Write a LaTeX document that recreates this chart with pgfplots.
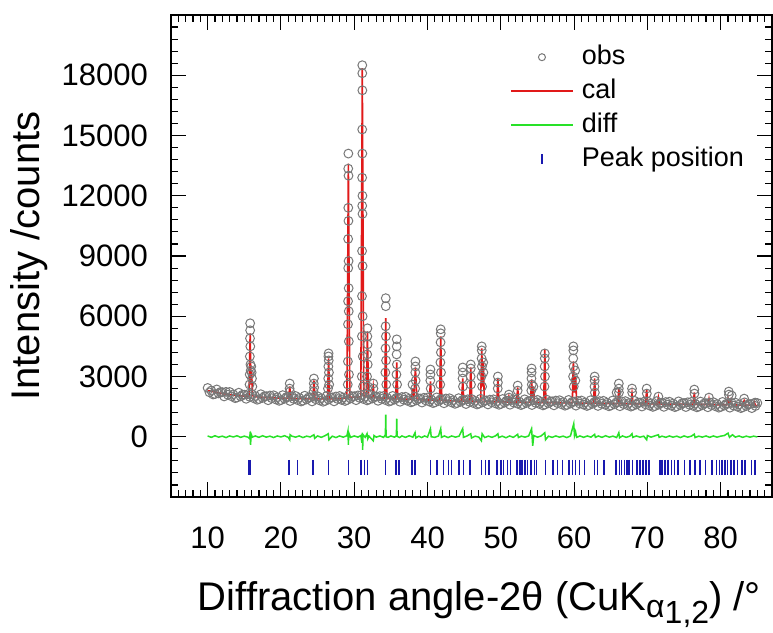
\documentclass[border=0pt]{standalone}
\usepackage{pgfplots}
\pgfplotsset{compat=1.18}
\usepackage{fontspec}
\setmainfont{Liberation Sans}
\definecolor{obsgray}{RGB}{120,120,120}
\definecolor{calred}{RGB}{225,25,25}
\definecolor{diffgreen}{RGB}{40,225,40}
\definecolor{pkblue}{RGB}{25,25,175}
\pgfplotsset{
  obsleg/.style={legend image code/.code={\draw[only marks, mark repeat=2, mark phase=2, mark size=3.5pt, ##1] plot coordinates {(0pt,0pt)(31pt,0pt)(62pt,0pt)};}},
  lineleg/.style={legend image code/.code={\draw[##1] (0pt,0pt) -- (62pt,0pt);}},
  pkleg/.style={legend image code/.code={\draw[pkblue, line width=1.2pt] (31pt,-5pt) -- (31pt,5pt);}},
}
\begin{document}
\begin{tikzpicture}
\begin{axis}[
  at={(0pt,0pt)}, anchor=south west,
  scale only axis, width=601pt, height=482pt,
  xmin=5, xmax=87, ymin=-3000, ymax=21000,
  scaled x ticks=false, scaled y ticks=false,
  xtick={0,10,20,30,40,50,60,70,80,90},
  xticklabels={,10,20,30,40,50,60,70,80,},
  minor x tick num=9,
  ytick={-3000,0,3000,6000,9000,12000,15000,18000,21000},
  yticklabels={,0,3000,6000,9000,12000,15000,18000,},
  minor y tick num=4,
  tick align=inside,
  major tick length=15pt, minor tick length=7pt,
  every tick/.style={black, line width=1.1pt},
  axis line style={line width=1.3pt},
  /pgf/number format/assume math mode=true,
  tick label style={font=\fontsize{31}{36}\selectfont},
  xticklabel style={anchor=base, inner sep=0pt, yshift=-51pt},
  yticklabel style={anchor=east, inner sep=0pt, xshift=-23pt},
  xlabel={Diffraction angle-2θ (CuK\raisebox{-7pt}{\fontsize{32}{32}\selectfont α\raisebox{-6pt}{1,2}}) /°},
  xlabel style={font=\fontsize{40}{44}\selectfont, at={(axis description cs:0.513,0)}, anchor=base, yshift=-113pt, inner sep=0pt},
  ylabel={Intensity /counts},
  ylabel style={font=\fontsize{40}{44}\selectfont, at={(axis description cs:-0.236,0.5)}, anchor=center, inner sep=0pt},
  legend cell align=left,
  legend style={at={(axis description cs:0.564,0.944)}, anchor=north west, draw=none, fill=none, inner sep=0pt,
    font=\fontsize{27}{30}\selectfont, row sep=4pt, column sep=6pt,
    nodes={inner sep=2pt, text height=20pt, text depth=6pt}},
]
% observed (background band)
\addplot[only marks, mark=o, mark size=4.4pt, mark options={draw=obsgray, line width=1pt, fill=none}, obsleg]
table {
x y
10.00 2430
10.25 2211
10.50 2302
10.75 2104
11.00 2125
11.25 2356
11.50 2157
11.75 2229
12.00 2220
12.25 2007
12.50 2235
12.75 2092
13.00 2230
13.25 2017
13.50 2115
13.75 1922
14.00 1950
14.25 2194
14.50 2007
14.75 2091
15.00 2095
15.25 1889
15.50 2122
15.75 1986
16.00 2130
16.25 1924
16.50 2027
16.75 1841
17.00 1875
17.25 2119
17.50 1932
17.75 2016
18.00 2020
18.25 1817
18.50 2054
18.75 1921
19.00 2067
19.25 1864
19.50 1971
19.75 1788
20.00 1825
20.25 2072
20.50 1889
20.75 1976
21.00 1982
21.25 1779
21.50 2016
21.75 1883
22.00 2030
22.25 1829
22.50 1937
22.75 1756
23.00 1795
23.25 2044
23.50 1862
23.75 1951
24.00 1960
24.25 1759
24.50 1997
24.75 1866
25.00 2015
25.25 1814
25.50 1922
25.75 1741
26.00 1780
26.25 2032
26.50 1855
26.75 1947
27.00 1960
27.25 1762
27.50 2005
27.75 1877
28.00 2030
28.25 1836
28.50 1952
28.75 1779
29.00 1825
29.25 2081
29.50 1907
29.75 2004
30.00 2020
30.25 1820
30.50 2060
30.75 1930
31.00 2080
31.25 1880
31.50 1990
31.75 1810
32.00 1850
32.25 2094
32.50 1907
32.75 1991
33.00 1995
33.25 1789
33.50 2022
33.75 1886
34.00 2030
34.25 1827
34.50 1934
34.75 1751
35.00 1787
35.25 2034
35.50 1851
35.75 1938
36.00 1945
36.25 1742
36.50 1979
36.75 1846
37.00 1992
37.25 1789
37.50 1896
37.75 1713
38.00 1750
38.25 1997
38.50 1814
38.75 1901
39.00 1907
39.25 1704
39.50 1941
39.75 1808
40.00 1955
40.25 1752
40.50 1859
40.75 1676
41.00 1712
41.25 1959
41.50 1776
41.75 1863
42.00 1870
42.25 1667
42.50 1904
42.75 1771
43.00 1917
43.25 1714
43.50 1821
43.75 1638
44.00 1675
44.25 1922
44.50 1739
44.75 1826
45.00 1832
45.25 1629
45.50 1866
45.75 1733
46.00 1880
46.25 1679
46.50 1787
46.75 1606
47.00 1645
47.25 1894
47.50 1712
47.75 1801
48.00 1810
48.25 1609
48.50 1847
48.75 1716
49.00 1865
49.25 1664
49.50 1772
49.75 1591
50.00 1630
50.25 1879
50.50 1697
50.75 1786
51.00 1795
51.25 1594
51.50 1832
51.75 1701
52.00 1850
52.25 1649
52.50 1757
52.75 1576
53.00 1615
53.25 1864
53.50 1682
53.75 1771
54.00 1780
54.25 1579
54.50 1817
54.75 1686
55.00 1835
55.25 1634
55.50 1742
55.75 1561
56.00 1600
56.25 1849
56.50 1667
56.75 1756
57.00 1765
57.25 1564
57.50 1802
57.75 1671
58.00 1820
58.25 1619
58.50 1727
58.75 1546
59.00 1585
59.25 1834
59.50 1652
59.75 1741
60.00 1750
60.25 1549
60.50 1787
60.75 1656
61.00 1805
61.25 1604
61.50 1712
61.75 1531
62.00 1570
62.25 1819
62.50 1637
62.75 1726
63.00 1735
63.25 1534
63.50 1772
63.75 1641
64.00 1790
64.25 1589
64.50 1697
64.75 1516
65.00 1555
65.25 1804
65.50 1622
65.75 1711
66.00 1720
66.25 1519
66.50 1757
66.75 1626
67.00 1775
67.25 1574
67.50 1682
67.75 1501
68.00 1540
68.25 1789
68.50 1607
68.75 1696
69.00 1705
69.25 1504
69.50 1742
69.75 1611
70.00 1760
70.25 1559
70.50 1667
70.75 1486
71.00 1525
71.25 1774
71.50 1592
71.75 1681
72.00 1690
72.25 1489
72.50 1728
72.75 1598
73.00 1747
73.25 1546
73.50 1655
73.75 1474
74.00 1513
74.25 1762
74.50 1581
74.75 1671
75.00 1680
75.25 1479
75.50 1718
75.75 1588
76.00 1737
76.25 1536
76.50 1645
76.75 1464
77.00 1503
77.25 1752
77.50 1571
77.75 1661
78.00 1670
78.25 1468
78.50 1706
78.75 1575
79.00 1723
79.25 1521
79.50 1629
79.75 1448
80.00 1486
80.25 1734
80.50 1552
80.75 1641
81.00 1649
81.25 1447
81.50 1685
81.75 1553
82.00 1701
82.25 1499
82.50 1607
82.75 1426
83.00 1464
83.25 1712
83.50 1530
83.75 1619
84.00 1627
84.25 1425
84.50 1663
84.75 1531
85.00 1680
};
\addlegendentry{obs}
% observed (peak points)
\addplot[forget plot, only marks, mark=o, mark size=4.4pt, mark options={draw=obsgray, line width=1pt, fill=none}]
table {
x y
15.80 5650
15.80 5300
15.78 4900
15.82 4500
15.76 4000
15.84 3600
15.74 3100
15.88 3300
15.95 3500
16.00 3200
16.05 2900
15.72 2600
16.10 2500
21.20 2650
21.18 2400
21.24 2250
24.50 2900
24.48 2650
24.53 2450
24.45 2250
26.50 4150
26.48 4000
26.52 3800
26.47 3500
26.55 3200
26.45 2900
26.58 2600
26.42 2400
29.20 14100
29.18 13350
29.22 13000
29.19 11400
29.21 10750
29.17 9850
29.23 8750
29.18 8400
29.24 7400
29.16 6750
29.25 6250
29.15 5600
29.26 4750
29.14 3750
29.28 3100
29.12 2600
31.10 18500
31.10 18100
31.11 17250
31.09 15300
31.11 14100
31.08 12900
31.12 12000
31.09 11500
31.13 11100
31.07 9250
31.14 8500
31.06 7000
31.15 6000
31.05 5000
31.17 4000
31.03 3000
31.20 2500
31.80 5400
31.79 5000
31.82 4600
31.77 4100
31.84 3600
31.75 3000
31.87 2500
32.60 2650
32.62 2400
34.30 6900
34.30 6500
34.28 5500
34.32 5000
34.27 4400
34.34 3800
34.25 3200
34.37 2600
35.80 4850
35.80 4500
35.78 4100
35.82 3600
35.76 3100
35.85 2600
37.95 2600
38.35 3750
38.35 3500
38.33 3200
38.38 2800
38.31 2400
40.40 3350
40.40 3100
40.38 2800
40.43 2400
41.80 5350
41.80 5150
41.78 4700
41.82 4200
41.76 3700
41.84 3200
41.74 2600
44.80 3450
44.80 3200
44.78 2900
44.83 2500
45.90 3600
45.90 3400
45.88 3000
45.93 2600
47.40 4500
47.40 4300
47.38 3900
47.42 3500
47.36 3000
47.45 2500
47.60 3700
47.62 3200
49.60 3000
49.60 2700
49.58 2400
51.10 2100
51.12 1950
52.30 2550
52.30 2300
54.20 3400
54.20 3200
54.18 2900
54.23 2600
54.16 2300
54.45 2500
56.00 4150
56.00 3900
55.98 3500
56.02 3000
55.96 2500
59.90 4500
59.90 4300
59.88 3900
59.92 3500
59.86 3000
59.95 2500
60.15 3300
60.17 2800
62.80 3000
62.80 2800
62.78 2500
62.83 2200
66.10 2650
66.10 2400
66.12 2200
65.80 2200
67.90 2400
67.92 2200
69.90 2400
69.92 2150
71.50 2000
76.40 2350
76.42 2150
78.40 1950
81.10 2250
81.12 2100
81.50 2050
83.20 1900
84.70 1700
};
% calculated
\addplot[calred, line width=1.6pt, lineleg]
coordinates {
(10.0,2300) (12,2150) (14,2050)
(15.65,2010) (15.8,5150) (15.92,2600) (16.0,3250) (16.12,2050) (16.5,2000)
(18,1950)
(21.05,1910) (21.2,2500) (21.35,1910)
(22,1900)
(24.35,1890) (24.5,2800) (24.65,1890)
(26.35,1880) (26.5,3900) (26.65,1890)
(28,1900)
(29.0,1930) (29.2,13600) (29.4,1960)
(30.9,1990) (31.1,18350) (31.3,2050)
(31.65,2000) (31.8,5250) (31.95,2000)
(32.45,1960) (32.6,2500) (32.75,1960)
(34.15,1910) (34.3,5900) (34.45,1900)
(35.65,1890) (35.8,3700) (35.95,1890)
(37.85,1860) (37.95,2400) (38.12,1870) (38.35,3450) (38.55,1850)
(40.25,1830) (40.4,2750) (40.55,1830)
(41.65,1810) (41.8,5000) (41.95,1810)
(44.65,1770) (44.8,2900) (44.95,1770)
(45.75,1760) (45.9,3450) (46.05,1760)
(47.25,1750) (47.4,4400) (47.52,2500) (47.62,3750) (47.75,1750)
(49.45,1740) (49.6,2900) (49.75,1740)
(50.95,1730) (51.1,2000) (51.25,1730)
(52.15,1720) (52.3,2450) (52.45,1720)
(54.05,1710) (54.2,2850) (54.33,2000) (54.45,2500) (54.6,1710)
(55.85,1700) (56.0,4350) (56.15,1700)
(59.75,1685) (59.9,3750) (60.05,2200) (60.2,3000) (60.35,1680)
(62.65,1670) (62.8,2900) (62.95,1670)
(65.95,1650) (66.1,2400) (66.25,1650)
(67.75,1645) (67.9,2150) (68.05,1645)
(69.75,1640) (69.9,2350) (70.05,1640)
(71.35,1630) (71.5,1950) (71.65,1630)
(76.25,1610) (76.4,2200) (76.55,1610)
(78.3,1605) (78.4,1850) (78.5,1600)
(80.85,1590) (81.0,1900) (81.15,1600) (81.4,1850) (81.55,1590)
(83.0,1575) (83.2,1800) (83.4,1570)
(84.5,1560) (84.6,1700) (84.75,1555) (85,1550)
};
\addlegendentry{cal}
% difference
\addplot[diffgreen, line width=1.5pt, lineleg]
coordinates {
(10,40)(10.5,-30)(11,50)(11.5,-20)(12,30)(12.5,-40)(13,40)(13.5,-10)(14,50)(14.5,-30)(15,30)(15.5,-20)
(15.75,-100)(15.8,250)(15.85,-400)(15.95,120)(16.1,-20)(16.5,40)(17,-30)(17.5,50)(18,-20)(18.5,30)
(19,-40)(19.5,40)(20,-10)(20.5,50)(21,-30)(21.2,-150)(21.25,100)(21.5,30)(22,-20)(22.5,40)(23,-40)
(23.5,30)(24,-10)(24.5,100)(24.6,-80)(25,40)(25.5,-30)(26,50)(26.45,150)(26.55,-150)(27,30)(27.5,-40)
(28,40)(28.5,-20)(29,50)(29.15,300)(29.2,-400)(29.25,200)(29.5,-30)(30,40)(30.5,-20)(30.9,60)
(31.05,-300)(31.1,200)(31.15,-650)(31.2,100)(31.5,-30)(31.75,150)(31.85,-100)(32,30)(32.6,-200)
(32.7,60)(33,-20)(33.5,40)(34,-30)(34.25,100)(34.3,1100)(34.35,0)(34.6,-30)(35,40)(35.5,-20)
(35.75,50)(35.8,900)(35.85,20)(36.2,-40)(36.5,40)(37,-30)(37.5,50)(38,-20)(38.3,200)(38.4,-60)
(38.8,30)(39.2,-40)(39.6,40)(40,-20)(40.4,400)(40.5,0)(41,-30)(41.5,40)(41.8,400)(41.9,-30)
(42.3,40)(42.8,-40)(43.3,40)(43.8,-20)(44.3,30)(44.8,400)(44.9,-30)(45.4,40)(45.9,150)(46,-60)
(46.5,30)(47,-20)(47.35,-200)(47.45,150)(47.8,-40)(48.3,30)(48.8,-30)(49.3,50)(49.6,150)(49.7,-40)
(50.2,30)(50.7,-50)(51.2,40)(51.7,-30)(52.3,120)(52.4,-40)(52.8,30)(53.3,-20)(53.8,40)(54.2,400)
(54.35,-450)(54.5,60)(55,-20)(55.5,40)(56,200)(56.1,-150)(56.5,30)(57,-30)(57.5,40)(58,-20)
(58.5,30)(59,-40)(59.5,40)(59.95,650)(60.05,50)(60.2,250)(60.35,-30)(60.8,40)(61.3,-30)(61.8,40)
(62.3,-20)(62.8,120)(62.9,-30)(63.3,40)(63.8,-30)(64.3,50)(64.8,-20)(65.3,30)(65.8,-40)(66.1,200)
(66.2,-50)(66.6,40)(67.1,-30)(67.6,30)(67.9,150)(68,-30)(68.5,40)(69,-20)(69.5,30)(69.9,-150)
(70,60)(70.5,-20)(71,40)(71.5,100)(71.6,-30)(72,30)(72.5,-30)(73,40)(73.5,-20)(74,30)(74.5,-40)
(75,40)(75.5,-20)(76,30)(76.4,130)(76.5,-40)(77,30)(77.5,-20)(78,40)(78.5,-30)(79,40)(79.5,-20)
(80,30)(80.5,60)(81,180)(81.2,-30)(81.6,100)(82,-20)(82.5,40)(83,-30)(83.5,30)(84,-20)(84.5,30)(85,-10)
};
\addlegendentry{diff}
% peak positions
\addplot[only marks, mark=|, mark size=7.5pt, mark options={draw=pkblue, line width=1.4pt}, pkleg]
table {
x y
15.6 -1525
15.8 -1525
21.1 -1525
22.3 -1525
24.4 -1525
26.5 -1525
29.2 -1525
30.9 -1525
31.4 -1525
31.8 -1525
34.3 -1525
35.7 -1525
36.1 -1525
37.9 -1525
38.3 -1525
40.4 -1525
41.3 -1525
42.2 -1525
42.9 -1525
43.3 -1525
44.3 -1525
44.9 -1525
45.8 -1525
47.4 -1525
47.9 -1525
48.4 -1525
49.5 -1525
50.0 -1525
50.4 -1525
50.9 -1525
51.3 -1525
52.2 -1525
52.6 -1525
52.9 -1525
53.3 -1525
53.6 -1525
54.1 -1525
54.6 -1525
54.9 -1525
56.1 -1525
57.1 -1525
57.7 -1525
58.4 -1525
59.3 -1525
59.8 -1525
60.2 -1525
60.7 -1525
61.4 -1525
62.8 -1525
63.2 -1525
64.1 -1525
65.7 -1525
66.2 -1525
66.5 -1525
66.9 -1525
67.2 -1525
67.5 -1525
68.0 -1525
68.6 -1525
69.0 -1525
69.4 -1525
69.8 -1525
70.2 -1525
71.7 -1525
72.0 -1525
72.4 -1525
72.8 -1525
73.3 -1525
73.7 -1525
74.2 -1525
75.1 -1525
75.8 -1525
76.5 -1525
77.2 -1525
77.9 -1525
78.8 -1525
79.4 -1525
79.8 -1525
80.2 -1525
80.6 -1525
80.9 -1525
81.4 -1525
81.8 -1525
82.3 -1525
82.9 -1525
83.3 -1525
84.2 -1525
84.7 -1525
};
\addlegendentry{Peak position}
\end{axis}
\pgfresetboundingbox
\path (-171pt,-135pt) rectangle (602pt,497pt);
\end{tikzpicture}
\end{document}
